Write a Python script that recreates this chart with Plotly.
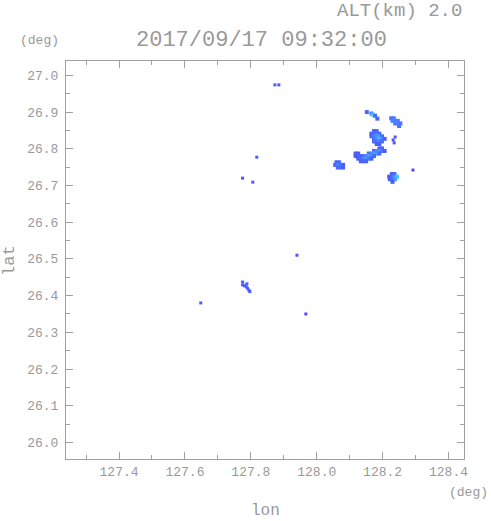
import plotly.graph_objects as go

# ---------------- data (radar echo cells at ALT 2.0 km) ----------------
# main echo cells (lon, lat, reflectivity-like value)
cell_lon = [
    # big blob
    128.174, 128.182,
    128.166, 128.174, 128.182, 128.190,
    128.166, 128.174, 128.182, 128.190, 128.198,
    128.174, 128.182, 128.190, 128.198, 128.206,
    128.174, 128.182, 128.190, 128.198,
    128.182, 128.190,
    # elongated band
    128.190, 128.198,
    128.174, 128.182, 128.190, 128.198, 128.206,
    128.118, 128.126, 128.158, 128.166, 128.174, 128.182, 128.190,
    128.118, 128.126, 128.134, 128.142, 128.150, 128.158, 128.166, 128.174,
    128.126, 128.134, 128.142, 128.150, 128.158, 128.166,
    128.134, 128.142, 128.150,
    # west blob
    128.060, 128.068,
    128.056, 128.064, 128.072, 128.080,
    128.064, 128.072, 128.080,
    # north-east blob
    128.226, 128.234,
    128.230, 128.238, 128.246,
    128.238, 128.246, 128.254,
    128.250,
    # south-east blob
    128.228, 128.236,
    128.220, 128.228, 128.236, 128.244,
    128.222, 128.230, 128.238,
    128.230,
    # northern small cluster
    128.152, 128.166, 128.170, 128.177, 128.184,
]
cell_lat = [
    26.848, 26.848,
    26.841, 26.841, 26.841, 26.841,
    26.834, 26.834, 26.834, 26.834, 26.834,
    26.827, 26.827, 26.827, 26.827, 26.827,
    26.820, 26.820, 26.820, 26.820,
    26.813, 26.813,
    26.801, 26.801,
    26.794, 26.794, 26.794, 26.794, 26.794,
    26.787, 26.787, 26.787, 26.787, 26.787, 26.787, 26.787,
    26.780, 26.780, 26.780, 26.780, 26.780, 26.780, 26.780, 26.780,
    26.773, 26.773, 26.773, 26.773, 26.773, 26.773,
    26.766, 26.766, 26.766,
    26.763, 26.763,
    26.756, 26.756, 26.756, 26.756,
    26.749, 26.749, 26.749,
    26.883, 26.883,
    26.876, 26.876, 26.876,
    26.869, 26.869, 26.869,
    26.862,
    26.731, 26.731,
    26.724, 26.724, 26.724, 26.724,
    26.717, 26.717, 26.717,
    26.710,
    26.900, 26.896, 26.893, 26.890, 26.882,
]
cell_val = [
    22, 23,
    22, 25, 26, 23,
    23, 26, 29, 30, 24,
    25, 28, 32, 29, 22,
    23, 26, 27, 24,
    22, 23,
    24, 23,
    23, 27, 28, 26, 22,
    22, 22, 24, 27, 30, 29, 24,
    22, 23, 23, 24, 27, 30, 28, 24,
    22, 24, 27, 29, 26, 23,
    22, 24, 23,
    22, 24,
    23, 27, 26, 22,
    24, 25, 22,
    25, 26,
    27, 27, 26,
    26, 27, 26,
    25,
    22, 23,
    22, 24, 28, 33,
    22, 25, 30,
    22,
    24, 26, 33, 24, 23,
]

# tiny isolated echo cells
dot_lon = [127.873, 127.885, 127.818, 127.775, 127.806, 127.940, 127.967,
           127.648, 128.292, 128.238, 128.232, 128.235,
           127.775, 127.775, 127.781, 127.786, 127.790, 127.794, 127.797, 127.788]
dot_lat = [26.974, 26.974, 26.777, 26.720, 26.709, 26.510, 26.350,
           26.380, 26.742, 26.832, 26.824, 26.816,
           26.437, 26.429, 26.427, 26.424, 26.420, 26.415, 26.411, 26.432]
dot_val = [22, 22, 22, 21, 22, 21, 20,
           22, 20, 21, 21, 21,
           22, 22, 22, 22, 22, 22, 22, 22]

# tick labels
x_ticks = [127.4, 127.6, 127.8, 128.0, 128.2, 128.4]
x_labels = ["127.4", "127.6", "127.8", "128.0", "128.2", "128.4"]
y_ticks = [26.0, 26.1, 26.2, 26.3, 26.4, 26.5, 26.6, 26.7, 26.8, 26.9, 27.0]
y_labels = ["26.0", "26.1", "26.2", "26.3", "26.4", "26.5", "26.6", "26.7", "26.8", "26.9", "27.0"]

title_text = "2017/09/17 09:32:00"
alt_text = "ALT(km) 2.0"

# ---------------- figure ----------------
FONT = "Liberation Mono"
GREY = "#999999"
AXC = "#a0a0a0"
cscale = [[0.0, "#4c4cff"], [0.35, "#4a70ff"], [0.7, "#4a9eff"], [1.0, "#3cdcff"]]

fig = go.Figure()
fig.add_trace(go.Scatter(
    x=cell_lon, y=cell_lat, mode="markers",
    marker=dict(symbol="square", size=4, color=cell_val, colorscale=cscale,
                cmin=20, cmax=34, line=dict(width=0)),
    hoverinfo="skip", showlegend=False))
fig.add_trace(go.Scatter(
    x=dot_lon, y=dot_lat, mode="markers",
    marker=dict(symbol="square", size=3, color=dot_val, colorscale=cscale,
                cmin=20, cmax=34, line=dict(width=0)),
    hoverinfo="skip", showlegend=False))

axis_common = dict(
    showgrid=False, zeroline=False, showline=True, linecolor=AXC, linewidth=1,
    mirror="allticks", ticks="inside", ticklen=7, tickcolor=AXC, tickwidth=1,
    tickfont=dict(family=FONT, size=13, color=GREY),
)
fig.update_xaxes(range=[127.239, 128.447], tickmode="array", tickvals=x_ticks,
                 ticktext=x_labels,
                 minor=dict(dtick=0.1, tick0=127.0, ticks="inside", ticklen=4,
                            tickcolor=AXC, tickwidth=1, showgrid=False),
                 **axis_common)
fig.update_yaxes(range=[25.955, 27.039], tickmode="array", tickvals=y_ticks,
                 ticktext=y_labels, ticklabelstandoff=4,
                 minor=dict(dtick=0.05, tick0=26.0, ticks="inside", ticklen=4,
                            tickcolor=AXC, tickwidth=1, showgrid=False),
                 **axis_common)

L, R, T, B = 66, 27, 61, 62
PW = 491 - L - R
PH = 521 - T - B

def px(xp):
    return (xp - L) / PW

def py(yp):
    return (521 - B - yp) / PH

annotations = [
    dict(text=alt_text, x=px(464), y=py(11), xanchor="right", yanchor="middle",
         font=dict(family=FONT, size=19, color=GREY)),
    dict(text=title_text, x=px(261), y=py(40), xanchor="center", yanchor="middle",
         font=dict(family=FONT, size=22, color=GREY)),
    dict(text="(deg)", x=px(39), y=py(40), xanchor="center", yanchor="middle",
         font=dict(family=FONT, size=13, color=GREY)),
    dict(text="lat", x=px(9), y=py(260), xanchor="center", yanchor="middle",
         textangle=-90, font=dict(family=FONT, size=17, color=GREY)),
    dict(text="lon", x=px(265), y=py(511), xanchor="center", yanchor="middle",
         font=dict(family=FONT, size=16, color=GREY)),
    dict(text="(deg)", x=px(490), y=py(492), xanchor="right", yanchor="middle",
         font=dict(family=FONT, size=13, color=GREY)),
]
for a in annotations:
    a.update(xref="paper", yref="paper", showarrow=False)

fig.update_layout(
    width=491, height=521,
    margin=dict(l=L, r=R, t=T, b=B, pad=0),
    paper_bgcolor="white", plot_bgcolor="white",
    annotations=annotations,
)

fig.write_html("out.html", config={"displayModeBar": False},
               post_script="document.body.style.margin='0';document.body.style.overflow='hidden';")
